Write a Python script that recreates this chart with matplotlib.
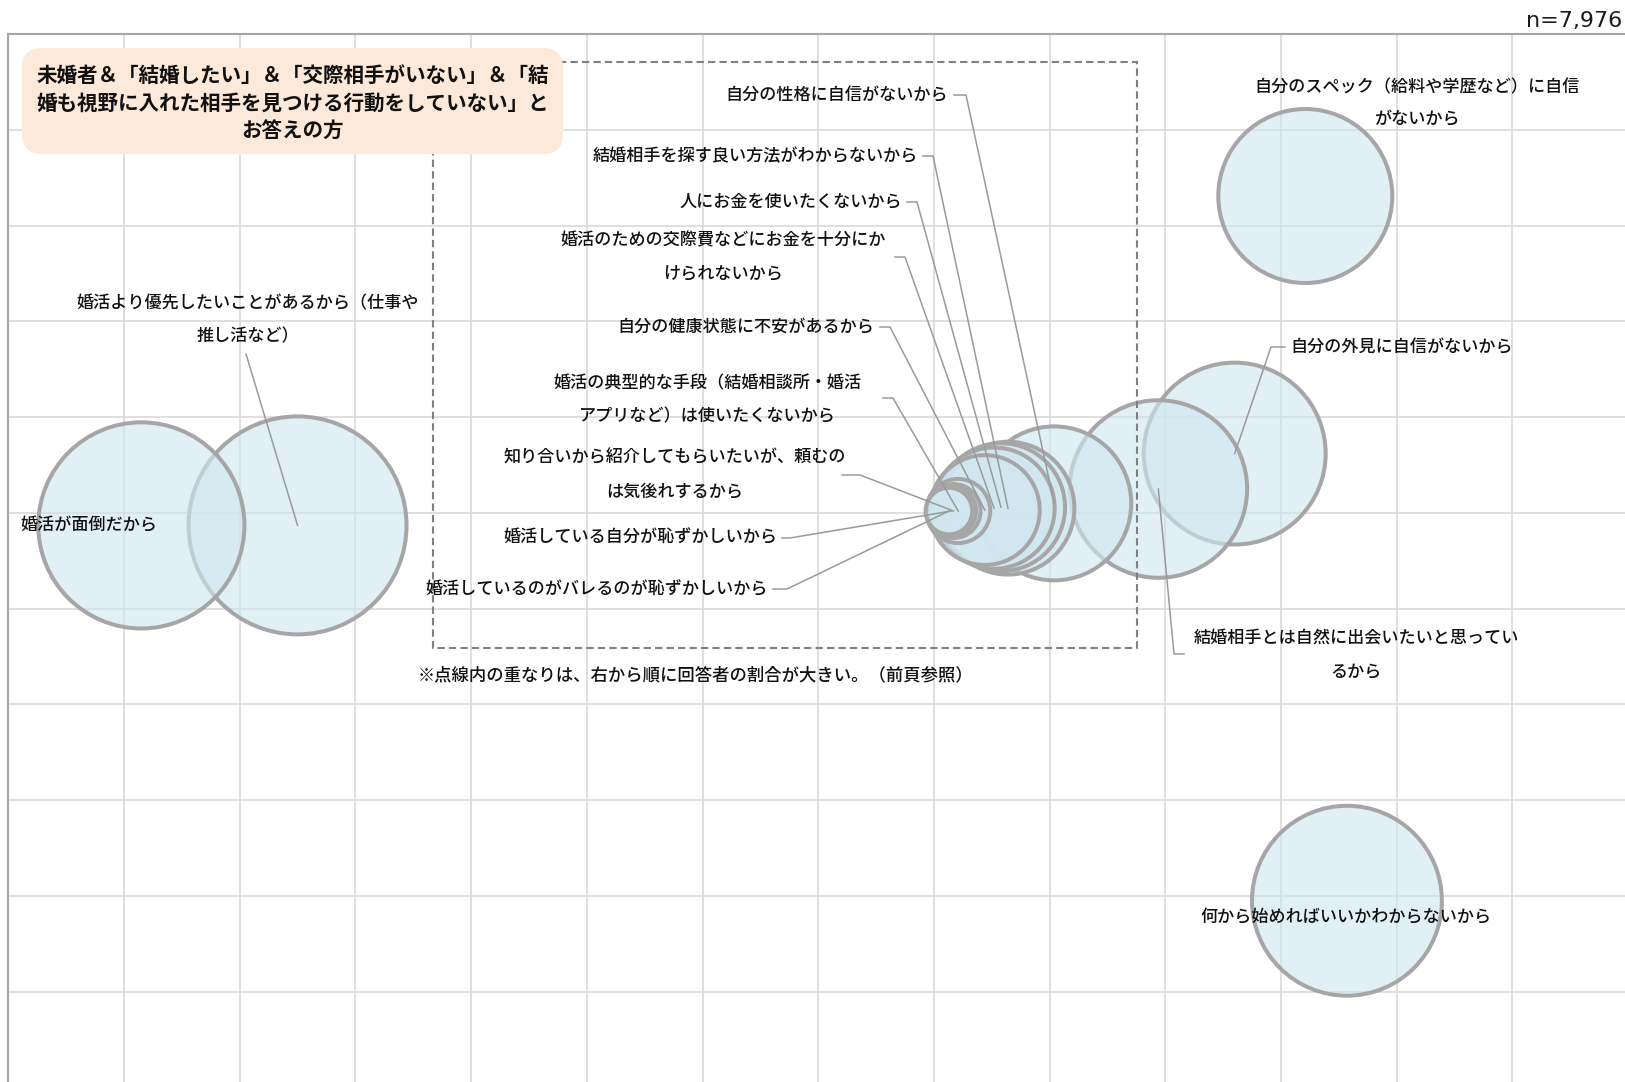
import numpy as np
import matplotlib.pyplot as plt
from matplotlib.patches import FancyBboxPatch, Rectangle
from matplotlib.transforms import Affine2D

plt.rcParams['font.family'] = ['Noto Sans CJK JP', 'DejaVu Sans']

W, H, DPI = 1625, 1082, 100

# bubble data (x / y in grid units, y counted from the top; share sets the bubble area)
reasons = [
    "婚活が面倒だから",
    "婚活より優先したいことがあるから（仕事や推し活など）",
    "自分のスペック（給料や学歴など）に自信がないから",
    "自分の外見に自信がないから",
    "結婚相手とは自然に出会いたいと思っているから",
    "何から始めればいいかわからないから",
    "自分の性格に自信がないから",
    "結婚相手を探す良い方法がわからないから",
    "人にお金を使いたくないから",
    "婚活のための交際費などにお金を十分にかけられないから",
    "自分の健康状態に不安があるから",
    "婚活の典型的な手段（結婚相談所・婚活アプリなど）は使いたくないから",
    "知り合いから紹介してもらいたいが、頼むのは気後れするから",
    "婚活している自分が恥ずかしいから",
    "婚活しているのがバレるのが恥ずかしいから",
]
x_pos = [1.15, 2.50, 11.21, 10.60, 9.94, 11.57, 9.04, 8.64, 8.58, 8.52, 8.44, 8.21, 8.17, 8.15, 8.13]
y_pos = [5.13, 5.13, 1.69, 4.38, 4.75, 9.05, 4.90, 4.95, 4.94, 4.95, 4.97, 4.98, 4.98, 4.98, 4.98]
share = [27.6, 30.8, 19.8, 21.6, 20.6, 23.5, 15.6, 11.7, 10.9, 9.8, 8.1, 2.9, 2.1, 1.8, 1.6]

title_lines = ["未婚者＆「結婚したい」＆「交際相手がいない」＆「結",
               "婚も視野に入れた相手を見つける行動をしていない」と",
               "お答えの方"]
note = "※点線内の重なりは、右から順に回答者の割合が大きい。（前頁参照）"
n_text = "n=7,976"

# label layout in image pixels (from top-left): lines, x, y of first line, ha, leader elbow points
layout = [
    (["婚活が面倒だから"], 20, 525, 'left', None),
    (["婚活より優先したいことがあるから（仕事や", "推し活など）"], 248, 303, 'center', [(246, 354)]),
    (["自分のスペック（給料や学歴など）に自信", "がないから"], 1417, 87, 'center', None),
    (["自分の外見に自信がないから"], 1290, 347, 'left', [(1285, 347), (1271, 347)]),
    (["結婚相手とは自然に出会いたいと思ってい", "るから"], 1356, 639, 'center', [(1184, 654), (1174, 654)]),
    (["何から始めればいいかわからないから"], 1346, 917, 'center', None),
    (["自分の性格に自信がないから"], 948, 95, 'right', [(954, 95), (966, 95)]),
    (["結婚相手を探す良い方法がわからないから"], 918, 156, 'right', [(923, 156), (933, 156)]),
    (["人にお金を使いたくないから"], 902, 202, 'right', [(907, 202), (917, 202)]),
    (["婚活のための交際費などにお金を十分にか", "けられないから"], 723, 240, 'center', [(895, 257), (905, 257)]),
    (["自分の健康状態に不安があるから"], 874, 327, 'right', [(880, 327), (890, 327)]),
    (["婚活の典型的な手段（結婚相談所・婚活", "アプリなど）は使いたくないから"], 707, 383, 'center', [(883, 398), (893, 398)]),
    (["知り合いから紹介してもらいたいが、頼むの", "は気後れするから"], 675, 458, 'center', [(842, 475), (860, 475)]),
    (["婚活している自分が恥ずかしいから"], 777, 538, 'right', [(782, 538), (790, 538)]),
    (["婚活しているのがバレるのが恥ずかしいから"], 768, 589, 'right', [(773, 589), (787, 589)]),
]

fig = plt.figure(figsize=(W / DPI, H / DPI), dpi=DPI)
px = Affine2D().scale(1 / W, -1 / H).translate(0, 1) + fig.transFigure

ax = fig.add_axes([8.3 / W, 1 - (34.2 + 11 * 95.75) / H, 14 * 115.7 / W, 11 * 95.75 / H])
ax.set_xlim(0, 14)
ax.set_ylim(11, 0)
ax.set_xticks(range(15))
ax.set_yticks(range(12))
ax.tick_params(length=0, labelbottom=False, labelleft=False)
ax.grid(True, color='#d9d9d9', lw=1.2, zorder=0)
ax.set_axisbelow(True)
for side in ['right', 'bottom']:
    ax.spines[side].set_visible(False)
for side in ['top', 'left']:
    ax.spines[side].set_color('#a6a6a6')
    ax.spines[side].set_linewidth(1.5)

# bubbles, biggest drawn first
order = np.argsort(share)[::-1]
r_px = 20 * np.sqrt(np.array(share))
lw_px = 4
sizes = (2 * (r_px - lw_px / 2) * 72 / DPI) ** 2
ax.scatter(np.array(x_pos)[order], np.array(y_pos)[order], s=sizes[order],
           facecolors=[(208 / 255, 231 / 255, 239 / 255, 0.62)], edgecolors='#a6a6a6',
           linewidths=lw_px * 72 / DPI, zorder=3)

# dashed frame around the crowded group
fig.patches.append(Rectangle((433, 62), 704, 586, transform=px, fill=False,
                             ec='#808080', lw=1.5, ls=(0, (3.5, 2)), zorder=2))

# labels and leader lines
for i, (lines, tx, ty, ha, elbow) in enumerate(layout):
    for k, line in enumerate(lines):
        fig.text(tx, ty + k * 33, line, transform=px, ha=ha, va='center',
                 fontsize=12.3, fontweight='medium', color='#111111', zorder=6)
    if elbow:
        cx, cy = ax.transData.transform((x_pos[i], y_pos[i]))
        pts = elbow + [(cx, H - cy)]
        fig.lines.append(plt.Line2D([p[0] for p in pts], [p[1] for p in pts], transform=px,
                                    color='#9a9a9a', lw=1.1, zorder=5))

fig.text(418, 675, note, transform=px, ha='left', va='center', fontsize=12.5,
         fontweight='medium', color='#111111')
fig.text(1622, 21, n_text, transform=px, ha='right', va='center', fontsize=16,
         family='DejaVu Sans', color='#1a1a1a')

# title box
fig.patches.append(FancyBboxPatch((36, 62), 513, 78, boxstyle='round,pad=14,rounding_size=20',
                                  transform=px, fc='#fde9d9', ec='none', zorder=4))
for k, line in enumerate(title_lines):
    fig.text(293, 75 + k * 28, line, transform=px, ha='center', va='center',
             fontsize=14.8, fontweight='bold', color='#111111', zorder=7)

fig.savefig('out.png', dpi=DPI)
